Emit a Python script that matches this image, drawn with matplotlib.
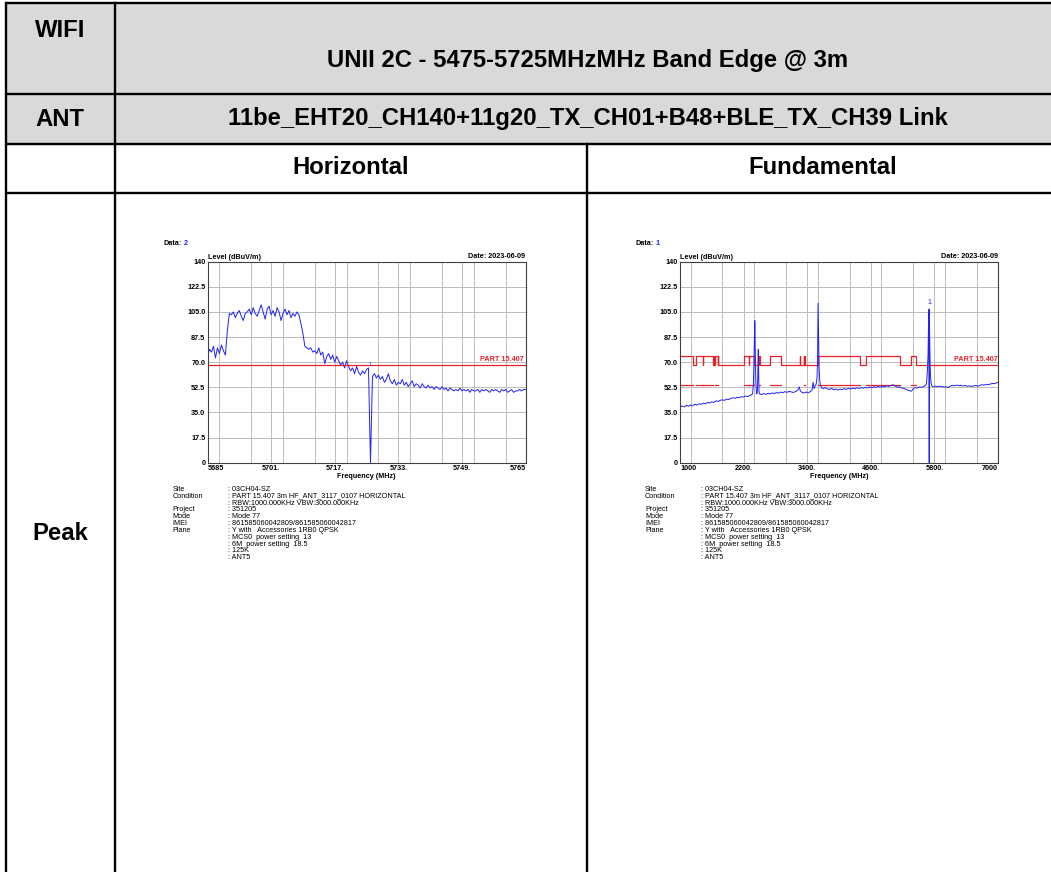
import numpy as np
import matplotlib
matplotlib.use("Agg")
import matplotlib.pyplot as plt
from matplotlib.ticker import MultipleLocator

plt.rcParams['font.family'] = ['Liberation Sans', 'DejaVu Sans']

# ---- band edge sweep (Horizontal), 5685-5765 MHz, 0.5 MHz steps
edge_level = [
    74, 79, 77, 81, 73, 80, 76, 82, 78, 75,
    92, 104, 103, 105, 101, 104, 106, 102, 99, 104,
    105, 107, 103, 108, 104, 102, 106, 110, 105, 100,
    107, 109, 103, 106, 102, 108, 105, 99, 104, 107,
    103, 106, 101, 104, 102, 105, 103, 97, 90, 81,
    80, 79, 80, 77, 78, 76, 80, 75, 77, 69,
    74, 76, 72, 75, 70, 74, 71, 68, 70, 66,
    71, 67, 64, 66, 62, 67, 63, 61, 64, 62,
    65, 66, 0, 60, 62, 59, 61, 58, 60, 56,
    58, 62, 57, 55, 58, 54, 56, 55, 58, 54,
    56, 53, 55, 57, 53, 55, 54, 52, 55, 53,
    52, 54, 52, 53, 51, 53, 52, 51, 53, 51,
    52, 50, 52, 51, 50, 51, 50, 52, 50, 51,
    50, 51, 49, 51, 50, 50, 51, 49, 51, 50,
    51, 50, 49, 51, 50, 51, 50, 49, 51, 50,
    51, 49, 50, 51, 49, 50, 50, 51, 50, 51,
    51,
]
edge_freq = np.linspace(5685, 5765, len(edge_level))
edge_limit = 68.2
edge_marker = (5726.0, 66)
edge_xticks = [5685, 5701, 5717, 5733, 5749, 5765]
edge_xlabels = ["5685", "5701.", "5717.", "5733.", "5749.", "5765"]

# ---- fundamental sweep 1-7 GHz
fund_freq = [
    1000, 1040, 1080, 1120, 1160, 1200, 1240, 1280, 1320, 1360,
    1400, 1440, 1480, 1520, 1560, 1600, 1640, 1680, 1720, 1760,
    1800, 1840, 1880, 1920, 1960, 2000, 2040, 2080, 2120, 2160,
    2200, 2240, 2280, 2320, 2350, 2370, 2385, 2395, 2405, 2410,
    2415, 2420, 2428, 2436, 2444, 2452, 2460, 2468, 2474, 2478,
    2484, 2490, 2500, 2540, 2580, 2620, 2660, 2700, 2740, 2780,
    2820, 2860, 2900, 2940, 2980, 3020, 3060, 3100, 3140, 3180,
    3220, 3250, 3270, 3300, 3340, 3380, 3420, 3460, 3490, 3510,
    3530, 3550, 3570, 3585, 3595, 3605, 3612, 3618, 3625, 3635,
    3650, 3670, 3700, 3740, 3780, 3820, 3860, 3900, 3940, 3980,
    4020, 4060, 4100, 4140, 4180, 4220, 4260, 4300, 4340, 4380,
    4420, 4460, 4500, 4540, 4580, 4620, 4660, 4700, 4740, 4780,
    4820, 4860, 4900, 4940, 4980, 5020, 5060, 5100, 5140, 5180,
    5220, 5260, 5300, 5340, 5370, 5400, 5440, 5480, 5520, 5560,
    5600, 5630, 5650, 5665, 5680, 5690, 5697, 5700, 5702, 5704,
    5710, 5720, 5735, 5750, 5780, 5820, 5860, 5900, 5940, 5980,
    6020, 6060, 6100, 6140, 6180, 6220, 6260, 6300, 6340, 6380,
    6420, 6460, 6500, 6540, 6580, 6620, 6660, 6700, 6740, 6780,
    6820, 6860, 6900, 6940, 6980, 7000,
]
fund_level = [
    38.5, 39.5, 38.8, 40.0, 39.3, 40.2, 39.6, 40.8, 40.1, 41.0,
    40.6, 41.5, 41.0, 42.0, 41.6, 42.4, 42.0, 43.1, 42.6, 43.5,
    43.8, 43.4, 44.3, 44.0, 44.8, 45.2, 44.9, 45.6, 45.3, 46.0,
    45.8, 46.4, 46.1, 46.9, 47.3, 48.0, 55, 70, 92, 99,
    96, 78, 60, 52, 49, 48, 50, 60, 76, 79,
    62, 50, 48.0, 47.4, 48.2, 47.6, 48.3, 47.9, 48.6, 48.1,
    48.9, 48.4, 49.2, 48.8, 49.5, 49.0, 49.7, 49.3, 48.9, 49.6,
    50.4, 52.8, 50.1, 49.0, 48.6, 49.2, 48.8, 49.5, 50.5, 56.0,
    51.5, 53.5, 55, 59, 70, 111, 96, 85, 66, 58,
    54, 52.2, 51.6, 52.4, 51.4, 51.0, 51.9, 50.8, 51.3, 50.6,
    51.2, 50.9, 51.6, 51.1, 51.8, 51.3, 52.0, 51.5, 52.2, 51.7,
    52.3, 51.9, 52.5, 52.0, 52.7, 52.2, 52.9, 52.4, 53.1, 52.6,
    53.3, 52.8, 53.6, 53.2, 53.8, 54.3, 53.4, 52.6, 52.9, 52.1,
    51.8, 51.2, 50.5, 50.1, 49.8, 51.5, 52.3, 52.0, 52.8, 52.4,
    53.2, 53.6, 55, 62, 75, 98, 106, 107, 0, 104,
    88, 66, 56, 53.5, 52.8, 53.4, 52.9, 53.3, 53.0, 52.6,
    52.9, 52.3, 53.4, 53.9, 53.5, 54.1, 53.6, 54.0, 53.4, 53.8,
    53.2, 53.6, 53.1, 53.5, 53.8, 53.3, 53.9, 54.3, 54.0, 54.6,
    54.3, 54.9, 55.2, 55.0, 55.8, 56.0,
]
fund_marker = (5700, 107)
restricted_bands = [
    (1000, 1240), (1300, 1427), (1435, 1626.5), (1645.5, 1646.5),
    (1660, 1710), (1718.8, 1722.2), (2200, 2300), (2310, 2390),
    (2483.5, 2500), (2690, 2900), (3260, 3267), (3332, 3339),
    (3345.8, 3358), (3600, 4400), (4500, 5150), (5350, 5460),
]
peak_limit = 74.0
avg_limit = 54.0
fund_xticks = [1000, 2200, 3400, 4600, 5800, 7000]
fund_xlabels = ["1000", "2200.", "3400.", "4600.", "5800.", "7000"]

yticks = [0, 17.5, 35, 52.5, 70, 87.5, 105, 122.5, 140]
ylabels = ["0", "17.5", "35.0", "52.5", "70.0", "87.5", "105.0", "122.5", "140"]

info_keys = ["Site", "Condition", "", "Project", "Mode", "IMEI", "Plane", "", "", "", ""]
info_vals = [": 03CH04-SZ",
             ": PART 15.407 3m HF_ANT_3117_0107 HORIZONTAL",
             ": RBW:1000.000KHz VBW:3000.000KHz",
             ": 351205",
             ": Mode 77",
             ": 861585060042809/861585060042817",
             ": Y with   Accessories 1RB0 QPSK",
             ": MCS0  power setting  13",
             ": 6M  power setting  18.5",
             ": 125K",
             ": ANT5"]

W, H = 1051, 872
BLUE = "#2222f5"
RED = "#e8202a"

fig = plt.figure(figsize=(W / 100, H / 100), dpi=100)

# ---- table background
tab = fig.add_axes([0, 0, 1, 1])
tab.set_xlim(0, W)
tab.set_ylim(H, 0)
tab.axis("off")
tab.add_patch(plt.Rectangle((6, 3), W - 6, 141, color="#d9d9d9", zorder=0))
lw = 1.7
for y in (3, 94.3, 144, 192.7):
    tab.plot([6, W], [y, y], color="black", lw=lw, solid_capstyle="butt")
tab.plot([6, 6], [3, H], color="black", lw=lw)
tab.plot([115, 115], [3, H], color="black", lw=lw)
tab.plot([586.7, 586.7], [144, H], color="black", lw=lw)

big = dict(fontsize=17.2, fontweight="bold", ha="center", va="center")
tab.text(60, 30.5, "WIFI", **big)
tab.text(588, 61, "UNII 2C - 5475-5725MHzMHz Band Edge @ 3m", **big)
tab.text(60, 119, "ANT", **big)
tab.text(588, 119, "11be_EHT20_CH140+11g20_TX_CH01+B48+BLE_TX_CH39 Link", **big)
tab.text(351, 168, "Horizontal", **big)
tab.text(823, 168, "Fundamental", **big)
tab.text(60, 533, "Peak", **big)


def spectrum(x0, data_no, xlim, xticks, xlabels, minor):
    ax = fig.add_axes([x0 / W, 1 - 462.7 / H, 318 / W, 201 / H])
    ax.set_xlim(*xlim)
    ax.set_ylim(0, 140)
    ax.set_xticks(xticks, xlabels)
    ax.xaxis.set_minor_locator(MultipleLocator(minor))
    ax.set_yticks(yticks, ylabels)
    ax.tick_params(which="both", length=0, labelsize=5.2, pad=1.5)
    for lab in ax.get_xticklabels() + ax.get_yticklabels():
        lab.set_fontweight("bold")
    xl = ax.get_xticklabels()
    xl[0].set_ha("left")
    xl[-1].set_ha("right")
    ax.grid(True, which="both", color="#bcbcbc", lw=0.7)
    for s in ax.spines.values():
        s.set_linewidth(0.8)
        s.set_color("#404040")
    ax.set_xlabel("Frequency (MHz)", fontsize=5.2, fontweight="bold", labelpad=1)
    ax.text(0.0, 1.005, "Level (dBuV/m)", transform=ax.transAxes, fontsize=5.2,
            fontweight="bold", ha="left", va="bottom")
    ax.text(1.0, 1.01, "Date: 2023-06-09", transform=ax.transAxes, fontsize=5.2,
            fontweight="bold", ha="right", va="bottom")
    lbl = tab.text(x0 - 44.5, 243, "Data:", fontsize=5.2, fontweight="bold",
                   va="center")
    tab.annotate(str(data_no), xy=(1, 0), xycoords=lbl, xytext=(1.5, 0),
                 textcoords="offset points", fontsize=5.2, fontweight="bold",
                 color=BLUE, va="bottom")
    for i, (k, v) in enumerate(zip(info_keys, info_vals)):
        y = 489.3 + i * 6.85
        tab.text(x0 - 35, y, k, fontsize=5.2, va="center")
        tab.text(x0 + 21, y, v, fontsize=5.2, va="center")
    return ax


# ---- left: band edge
ax1 = spectrum(207.5, 2, (5685, 5765), edge_xticks, edge_xlabels, 8)
ax1.plot(edge_freq, edge_level, color=BLUE, lw=0.7)
ax1.axhline(edge_limit, color=RED, lw=0.9)
ax1.text(5764.5, edge_limit + 1, "PART 15.407", color=RED, fontsize=5.2,
         fontweight="bold", ha="right", va="bottom")
ax1.text(edge_marker[0], edge_marker[1] + 1, "1", color=BLUE, fontsize=4,
         ha="center", va="bottom")

# ---- right: fundamental
ax2 = spectrum(680, 1, (1000, 7000), fund_xticks, fund_xlabels, 600)
lx, ly = [], []
prev = 1000
for a, b in restricted_bands:
    if a > prev:
        lx += [prev, a]
        ly += [edge_limit, edge_limit]
    lx += [a, b]
    ly += [peak_limit, peak_limit]
    prev = b
lx += [prev, 7000]
ly += [edge_limit, edge_limit]
ax2.plot(lx, ly, color=RED, lw=0.9)
for a, b in restricted_bands:
    ax2.plot([a, b], [avg_limit, avg_limit], color=RED, lw=0.9)
ax2.plot(fund_freq, fund_level, color=BLUE, lw=0.7)
ax2.text(6990, edge_limit + 1, "PART 15.407", color=RED, fontsize=5.2,
         fontweight="bold", ha="right", va="bottom")
ax2.text(fund_marker[0], fund_marker[1] + 2, "1", color=BLUE, fontsize=5,
         ha="center", va="bottom")

fig.savefig("out.png", dpi=100)
